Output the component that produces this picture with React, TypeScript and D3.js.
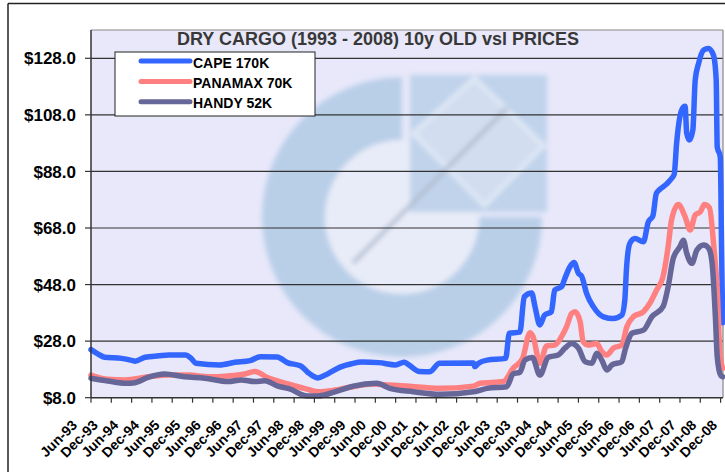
import React from 'react'
import * as d3 from 'd3'

const width = 725
const height = 472
const plot = { left: 91, top: 30, right: 723, bottom: 397.7 }

// month index counted from Jun-93
const tickLabels = [
  'Jun-93', 'Dec-93', 'Jun-94', 'Dec-94', 'Jun-95', 'Dec-95', 'Jun-96', 'Dec-96',
  'Jun-97', 'Dec-97', 'Jun-98', 'Dec-98', 'Jun-99', 'Dec-99', 'Jun-00', 'Dec-00',
  'Jun-01', 'Dec-01', 'Jun-02', 'Dec-02', 'Jun-03', 'Dec-03', 'Jun-04', 'Dec-04',
  'Jun-05', 'Dec-05', 'Jun-06', 'Dec-06', 'Jun-07', 'Dec-07', 'Jun-08', 'Dec-08'
]
const yTicks = [8, 28, 48, 68, 88, 108, 128]

const cape: [number, number][] = [
  [0, 25.0], [2, 23.5], [4, 22.3], [9, 21.9], [12, 21.2], [13, 20.9], [16, 22.3], [20, 22.8],
  [23, 23.1], [28, 23.1], [29.5, 22], [31, 20.2], [38, 19.6], [42.5, 20.5], [47, 21.1], [50, 22.5],
  [55, 22.4], [58, 20.4], [62, 19.2], [64, 17.0], [67, 15.0], [70, 16.5], [73.6, 18.8], [77, 20],
  [80, 20.6], [85, 20.4], [90, 19.6], [92.5, 20.5], [94, 19.5], [97, 17.3], [100, 17.2], [103, 20.2],
  [113, 20.3], [113.4, 19], [114.5, 20.2], [117, 21.3], [122.5, 21.9], [123.6, 30.8], [126.7, 31.2],
  [128, 43.7], [130.2, 45.0], [131.2, 40], [132.6, 33.7], [134, 37.2], [136, 38.4], [137, 46.1],
  [139, 47.2], [140, 50.2], [141.5, 54.3], [142.7, 55.8], [144, 52.0], [145, 50.8], [146.4, 44.9],
  [148.4, 40.2], [151.4, 36.6], [154.3, 36.0], [156.8, 37.2], [157.7, 42.5], [158.2, 53.7],
  [159.2, 62.6], [160.7, 64.3], [163.2, 63.1], [164.6, 70], [166, 72.3], [167, 80.2], [168, 81.6],
  [170, 83.5], [171.5, 85.5], [172.3, 87], [173, 97.9], [174.5, 109.7], [175.5, 111], [176, 101.4],
  [176.8, 99.1], [177.8, 102.6], [178.5, 120.3], [179.5, 126.2], [181, 130.9], [182.4, 131.5],
  [183.9, 129.1], [184.7, 120.3], [185, 96.7], [185.9, 93.2], [186.3, 60], [186.6, 34.5]
]

const panamax: [number, number][] = [
  [0, 16.0], [5, 14.5], [10, 14.3], [17, 15.4], [23, 16.0], [29, 16.0], [34.6, 15.4], [40.5, 15.7],
  [45.4, 16.4], [48.4, 17.3], [52.3, 15.0], [57, 13.2], [63, 11.3], [67, 10.1], [71.6, 10.6],
  [77, 11.8], [83.4, 12.8], [88, 12.5], [93.3, 12.1], [103, 11.3], [113, 12.1], [115, 13.1],
  [121.8, 13.7], [124.7, 18.4], [127.5, 21.9], [129.7, 31.0], [130.6, 29.6], [132.6, 20.2],
  [134.6, 26.3], [137, 26.6], [139, 29.6], [140.5, 33.1], [142, 37.8], [143, 38.4], [144.5, 34.9],
  [145.4, 27.8], [146.9, 26.6], [149.4, 27.2], [150.9, 24.3], [152.4, 23.1], [154.3, 25.5],
  [156.8, 26.6], [158.3, 33.1], [160.2, 36.6], [163.2, 38.4], [165.1, 41.4], [167.1, 46.1],
  [169, 50.8], [170.5, 61.4], [171.5, 70.8], [173.5, 76.3], [175.5, 72.0], [177, 67.3],
  [178.5, 72.6], [180, 73.7], [181.2, 76.3], [182.7, 75.2], [184, 61.4], [185, 46.1],
  [185.8, 23.7], [186.6, 18.4]
]

const handy: [number, number][] = [
  [0, 14.9], [5, 13.9], [10.4, 13.1], [13, 13.3], [16.8, 15.2], [21.8, 16.4], [27.6, 15.4],
  [33.6, 14.9], [40.5, 13.7], [44.4, 14.3], [48.4, 13.7], [51.3, 14.0], [55.2, 12.1], [59, 11.0],
  [62, 9.2], [64, 8.6], [67, 8.6], [69, 9.0], [73.6, 10.7], [77.5, 12.1], [84.4, 13.1], [88.3, 11.3],
  [95.2, 10.1], [103, 9.2], [113, 10.1], [117, 11.3], [122.8, 11.9], [124.7, 16.4], [126.7, 17.0],
  [128.2, 21.3], [130.4, 22.2], [132.6, 16.0], [135.1, 22.3], [138, 23.1], [140, 25.5], [142, 27.2],
  [144, 25.5], [146, 20.7], [148, 20.2], [149.4, 23.7], [150.9, 21.3], [152.4, 17.8], [153.9, 19.6],
  [156.8, 20.7], [157.8, 24.9], [159.8, 30.8], [163.2, 31.9], [165.7, 36.6], [169, 40.2],
  [170.5, 47.2], [172, 57.2], [174, 61.4], [175, 63.7], [176, 59.0], [177.5, 55.5], [179, 60.2],
  [181, 62.0], [182.5, 60.8], [183.5, 55.5], [184.5, 35.5], [185, 22.5], [186, 16.0], [186.6, 15.4]
]

const seriesNames = ['CAPE 170K', 'PANAMAX 70K', 'HANDY 52K']
const seriesColors = ['#3366FF', '#FF8080', '#666699']
const seriesData = [cape, panamax, handy]

const font = "Arial, 'Liberation Sans', sans-serif"

const Watermark = () => {
  const cx = 402, cy = 217
  const ring = d3.arc()({ innerRadius: 77, outerRadius: 140, startAngle: Math.PI / 2, endAngle: Math.PI * 2 } as any)
  const sq = { x: 410, y: 75, s: 137 }
  const mx = sq.x + sq.s / 2, my = sq.y + sq.s / 2
  const diamond = [[mx - 4, sq.y + 3], [sq.x + sq.s - 3, my + 2], [mx + 6, sq.y + sq.s - 6], [sq.x + 3, my - 10]]
  return (
    <g filter="url(#soft)">
      <path d={ring as string} transform={`translate(${cx},${cy})`} fill="#B9CFE8" />
      <circle cx={cx} cy={cy} r={77} fill="#E8ECF8" />
      <rect x={sq.x} y={sq.y} width={sq.s} height={sq.s} fill="#C0D3EB" />
      <polygon points={diamond.map(p => p.join(',')).join(' ')} fill="#D2DEF0" stroke="#E2EAF6" strokeWidth={4} />
      <line x1={353} y1={263} x2={507} y2={108} stroke="#B2BDD0" strokeWidth={4} />
    </g>
  )
}

const App = () => {
  const xScale = d3.scaleLinear().domain([0, 186]).range([plot.left, 720.6])
  const yScale = d3.scaleLinear().domain([8, 138]).range([plot.bottom, plot.top])
  const labelScale = d3.scalePoint().domain(tickLabels).range([78, 718])

  const line = d3.line<[number, number]>()
    .x(d => xScale(d[0]))
    .y(d => yScale(d[1]))
    .curve(d3.curveMonotoneX)

  return (
    <svg width={width} height={height} style={{ position: 'absolute', left: 0, top: 0, background: '#fff' }}>
      <defs>
        <filter id="soft" x="-10%" y="-10%" width="120%" height="120%">
          <feGaussianBlur stdDeviation={2.5} />
        </filter>
      </defs>
      {/* outer frame */}
      <line x1={8} y1={3.5} x2={width} y2={3.5} stroke="#222" strokeWidth={1.5} />
      <line x1={8} y1={3.5} x2={8} y2={height} stroke="#222" strokeWidth={1.5} />

      <rect x={plot.left} y={plot.top} width={plot.right - plot.left} height={plot.bottom - plot.top} fill="#E8E8FA" />
      <Watermark />

      {yTicks.filter(t => t > 8).map(t =>
        <line key={t} x1={plot.left} x2={plot.right} y1={yScale(t)} y2={yScale(t)} stroke="#333" strokeWidth={1.2} />
      )}
      <line x1={plot.left} x2={plot.right} y1={plot.top} y2={plot.top} stroke="#888" strokeWidth={1.2} />
      <line x1={plot.right} x2={plot.right} y1={plot.top} y2={plot.bottom} stroke="#888" strokeWidth={1.2} />

      <text x={378} y={44.5} textAnchor="middle" fontFamily={font} fontWeight="bold" fontSize={18} fill="#383838">
        DRY CARGO (1993 - 2008) 10y OLD vsl PRICES
      </text>

      {seriesData.map((s, i) =>
        <path key={i} d={line(s) as string} fill="none" stroke={seriesColors[i]} strokeWidth={5.5}
          strokeLinejoin="round" strokeLinecap="round" />
      )}

      {/* axes */}
      <line x1={plot.left} x2={plot.left} y1={plot.top} y2={plot.bottom} stroke="#333" strokeWidth={1.5} />
      <line x1={plot.left} x2={plot.right} y1={plot.bottom} y2={plot.bottom} stroke="#333" strokeWidth={1.5} />
      {yTicks.map(t =>
        <g key={t}>
          <line x1={85} x2={plot.left} y1={yScale(t)} y2={yScale(t)} stroke="#333" strokeWidth={1.2} />
          <text x={76} y={yScale(t)} dy="0.36em" textAnchor="end" fontFamily={font} fontWeight="bold" fontSize={17} fill="#000">
            {`$${t.toFixed(1)}`}
          </text>
        </g>
      )}
      {tickLabels.map((l, i) =>
        <g key={l}>
          <line x1={xScale(i * 6)} x2={xScale(i * 6)} y1={plot.bottom} y2={plot.bottom + 5} stroke="#333" strokeWidth={1.2} />
          <text transform={`translate(${labelScale(l)},426) rotate(-45)`} textAnchor="end"
            fontFamily={font} fontWeight="bold" fontSize={14} fill="#000">{l}</text>
        </g>
      )}

      {/* legend */}
      <rect x={115} y={52} width={200} height={64} fill="#fff" stroke="#222" strokeWidth={1} />
      {seriesNames.map((n, i) =>
        <g key={n} transform={`translate(0,${61 + i * 20.4})`}>
          <line x1={141} x2={190} y1={0} y2={0} stroke={seriesColors[i]} strokeWidth={5} strokeLinecap="round" />
          <text x={193} y={6.5} fontFamily={font} fontWeight="bold" fontSize={14} fill="#000">{n}</text>
        </g>
      )}
    </svg>
  )
}

export default App
